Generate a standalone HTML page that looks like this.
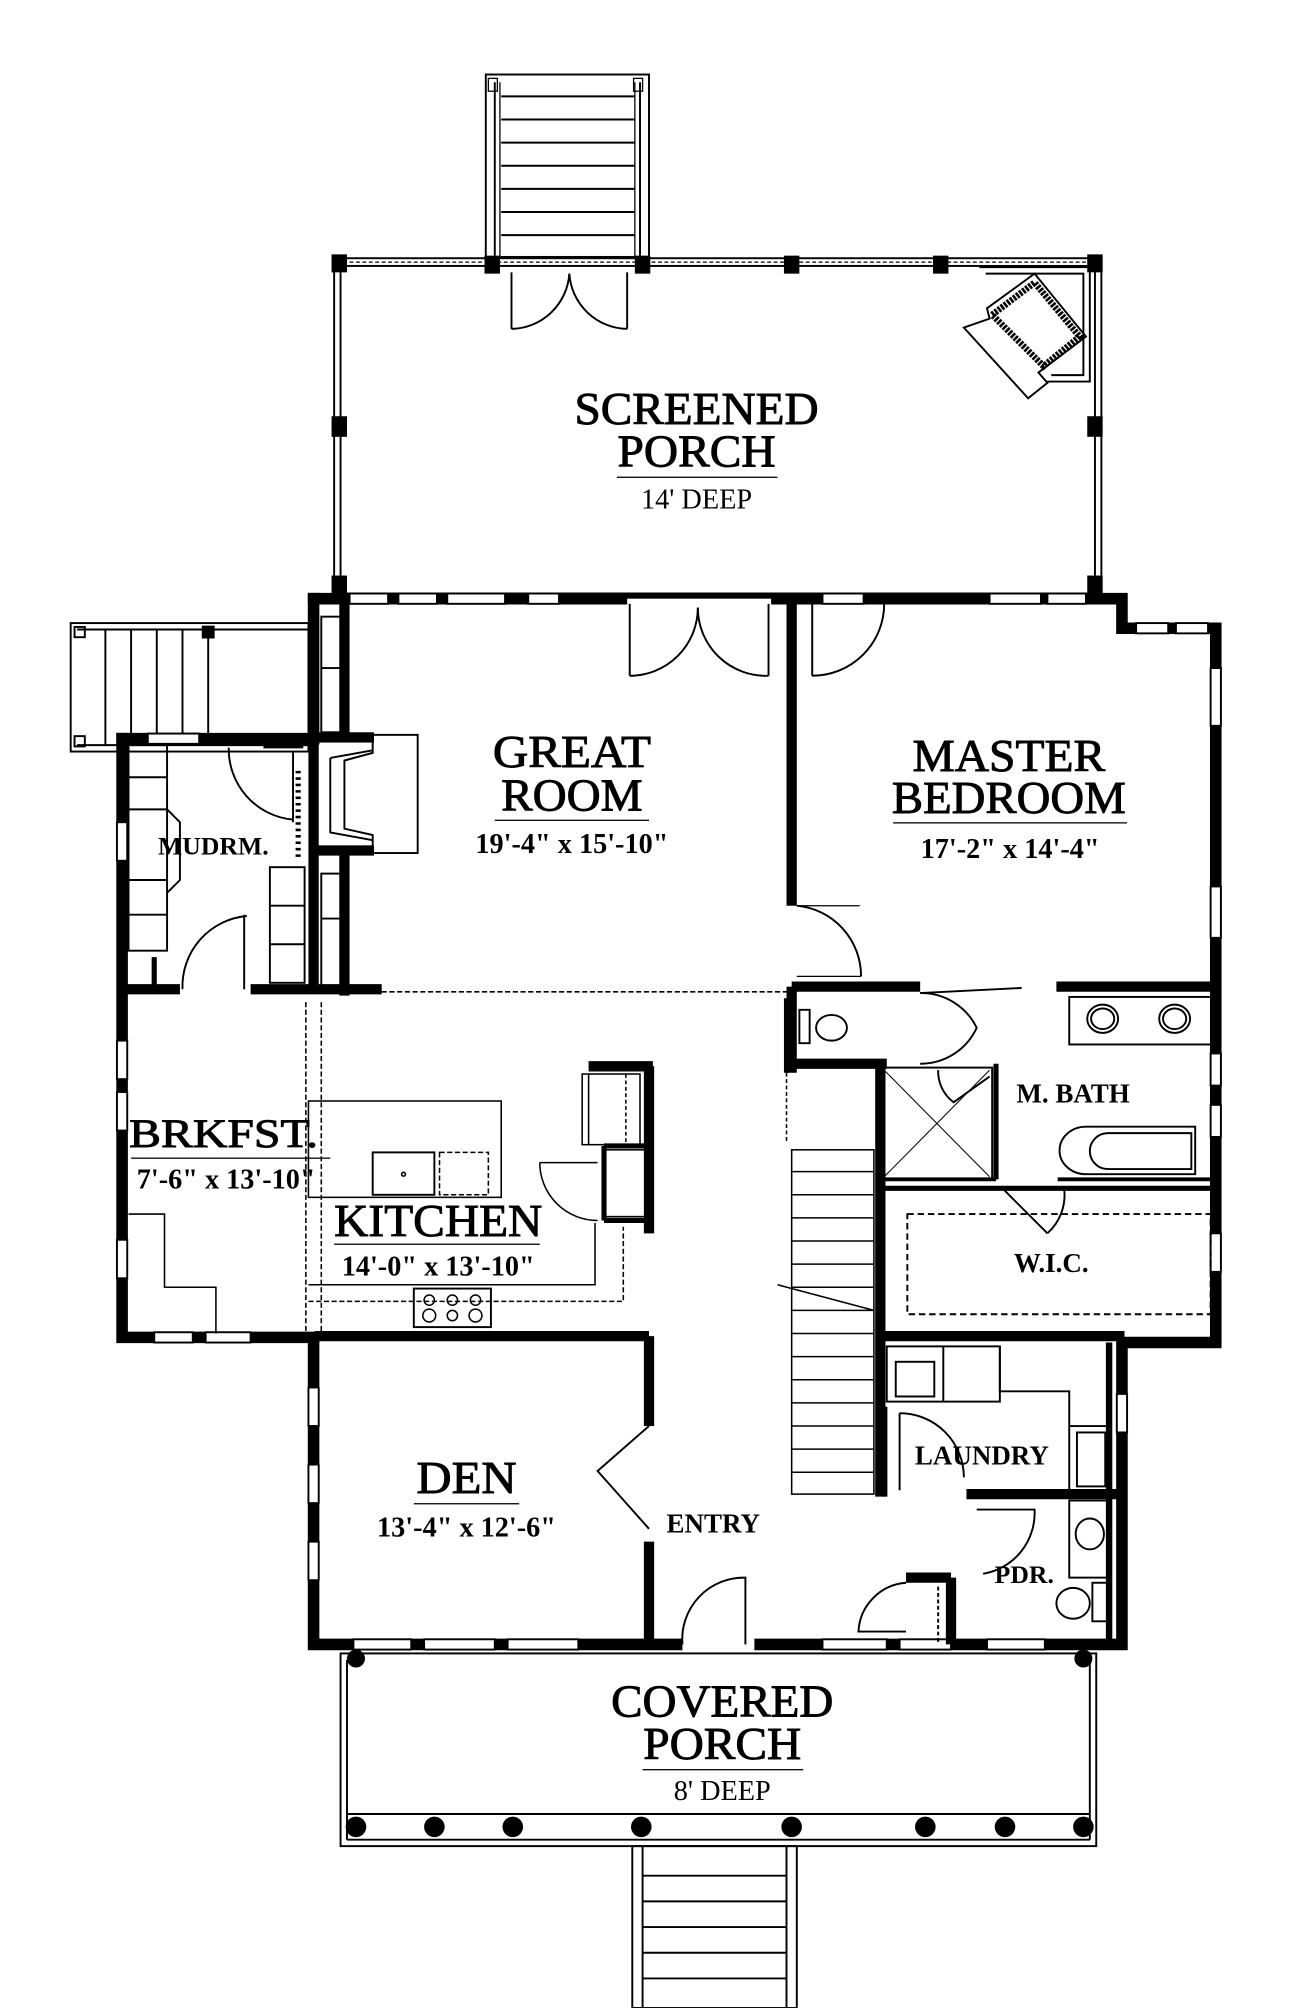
<!DOCTYPE html>
<html><head><meta charset="utf-8"><style>html,body{margin:0;padding:0;background:#fff}svg{display:block}</style></head>
<body>
<svg width="1316" height="2008" viewBox="0 0 1024 1563" preserveAspectRatio="none" xmlns="http://www.w3.org/2000/svg" font-family="Liberation Serif, serif" fill="none" stroke="#000">
<rect width="1024" height="1563" fill="#fff" stroke="none"/>
<!-- top stairs -->
<rect x="378" y="58" width="127" height="142" stroke-width="1.5"/>
<line x1="385" y1="64" x2="385" y2="200" stroke-width="1.5"/><line x1="389" y1="64" x2="389" y2="200"/>
<line x1="498" y1="64" x2="498" y2="200" stroke-width="1.5"/><line x1="494" y1="64" x2="494" y2="200"/>
<rect x="380" y="61" width="7" height="10"/><rect x="493" y="61" width="7" height="10"/>
<g stroke-width="1.5"><line x1="390" y1="75" x2="494" y2="75"/><line x1="390" y1="93" x2="494" y2="93"/><line x1="390" y1="111" x2="494" y2="111"/><line x1="390" y1="129" x2="494" y2="129"/><line x1="390" y1="147" x2="494" y2="147"/><line x1="390" y1="165" x2="494" y2="165"/><line x1="390" y1="183" x2="494" y2="183"/></g>
<!-- screened porch screens -->
<g stroke-width="1.5">
<rect x="260" y="201" width="597" height="261"/>
<rect x="265" y="207" width="587" height="255"/>
<line x1="262" y1="204" x2="855" y2="204" stroke-dasharray="3 2" stroke-width="1"/>
</g>
<g fill="#000" stroke="none">
<rect x="258" y="198" width="12" height="14"/><rect x="377" y="199" width="12" height="14"/><rect x="494" y="199" width="12" height="14"/><rect x="610" y="199" width="12" height="14"/><rect x="726" y="199" width="12" height="14"/><rect x="846" y="198" width="12" height="14"/>
<rect x="258" y="324" width="12" height="16"/><rect x="846" y="324" width="12" height="16"/>
<rect x="258" y="448" width="12" height="14"/><rect x="846" y="448" width="12" height="14"/>
</g>
<!-- porch doors -->
<g stroke-width="1.5">
<line x1="398" y1="212" x2="398" y2="256"/><path d="M398 256 A46 46 0 0 0 443 213"/>
<line x1="488" y1="212" x2="488" y2="256"/><path d="M488 256 A46 46 0 0 1 443 213"/>
</g>
<!-- fireplace corner -->
<g stroke-width="1.5">
<path d="M762 208 L848 208 L848 297 L815 297"/>
<path d="M767 213 L843 213 L843 292 L818 292"/>
<path d="M750 255 L800 310 L815 298 L808 290 L845 262 L805 213 L768 240 L770 248 Z"/>
<path d="M772 245 L805 220 L840 262 L812 285 Z" stroke-width="5" stroke-dasharray="2 1"/>
</g>
<!-- left stairs -->
<g stroke-width="1.5">
<rect x="55" y="485" width="185" height="100"/>
<line x1="60" y1="490" x2="240" y2="490"/><line x1="60" y1="580" x2="240" y2="580"/>
<rect x="58" y="488" width="8" height="8"/><rect x="58" y="573" width="8" height="8"/>
<line x1="82" y1="490" x2="82" y2="580"/><line x1="102" y1="490" x2="102" y2="580"/><line x1="122" y1="490" x2="122" y2="580"/><line x1="142" y1="490" x2="142" y2="580"/><line x1="162" y1="490" x2="162" y2="580"/>
</g>
<rect x="157" y="487" width="10" height="10" fill="#000" stroke="none"/>
<!-- main outer walls -->
<g stroke-width="9" stroke-linecap="square">
<path d="M244 466 L873 466 L873 489 L946 489 L946 1045 L873 1045 L873 1280 L244 1280 L244 1043"/>
<path d="M244 466 L244 575"/>
<path d="M95 575 L244 575"/>
<path d="M95 575 L95 1041 L244 1041"/>
</g>
<g fill="#fff" stroke="#000" stroke-width="1.5">
<rect x="272" y="462" width="30" height="8"/><rect x="310" y="462" width="30" height="8"/><rect x="348" y="462" width="45" height="8"/>
<rect x="411" y="462" width="24" height="8"/><rect x="640" y="462" width="32" height="8"/><rect x="770" y="462" width="40" height="8"/><rect x="815" y="462" width="30" height="8"/>
<rect x="884" y="485" width="25" height="8"/><rect x="915" y="485" width="25" height="8"/>
<rect x="942" y="520" width="8" height="45"/><rect x="942" y="690" width="8" height="40"/><rect x="942" y="820" width="8" height="25"/><rect x="942" y="860" width="8" height="25"/><rect x="942" y="960" width="8" height="30"/>
<rect x="869" y="1085" width="8" height="30"/>
<rect x="91" y="640" width="8" height="30"/><rect x="91" y="810" width="8" height="30"/><rect x="91" y="850" width="8" height="30"/><rect x="91" y="965" width="8" height="30"/>
<rect x="240" y="1080" width="8" height="30"/><rect x="240" y="1140" width="8" height="30"/><rect x="240" y="1200" width="8" height="30"/>
<rect x="120" y="1037" width="30" height="8"/><rect x="160" y="1037" width="35" height="8"/>
<rect x="275" y="1276" width="45" height="8"/><rect x="330" y="1276" width="55" height="8"/><rect x="395" y="1276" width="55" height="8"/>
<rect x="640" y="1276" width="50" height="8"/><rect x="700" y="1276" width="40" height="8"/><rect x="768" y="1276" width="45" height="8"/>
<rect x="115" y="571" width="40" height="8"/>
<rect x="531" y="1275" width="56" height="10" stroke="none"/>
<rect x="488" y="466" width="112" height="6" stroke="none"/>
</g>
<!-- interior walls -->
<g stroke-width="8" stroke-linecap="butt">
<line x1="244" y1="466" x2="244" y2="772"/>
<line x1="268" y1="466" x2="268" y2="575"/>
<line x1="268" y1="665" x2="268" y2="775"/>
<line x1="95" y1="770" x2="140" y2="770"/><line x1="195" y1="770" x2="297" y2="770"/>
<line x1="616" y1="462" x2="616" y2="705"/>
<line x1="616" y1="768" x2="716" y2="768"/><line x1="822" y1="768" x2="946" y2="768"/>
<line x1="616" y1="768" x2="616" y2="835"/>
<line x1="616" y1="828" x2="690" y2="828"/>
<line x1="685" y1="828" x2="685" y2="1165"/>
<line x1="685" y1="1040" x2="875" y2="1040"/>
<line x1="752" y1="1163" x2="870" y2="1163"/>
<line x1="245" y1="1040" x2="505" y2="1040"/>
<line x1="505" y1="830" x2="505" y2="960"/>
<line x1="458" y1="830" x2="508" y2="830"/>
<line x1="505" y1="1040" x2="505" y2="1110"/>
<line x1="505" y1="1200" x2="505" y2="1280"/>
<line x1="705" y1="1228" x2="740" y2="1228"/>
<line x1="740" y1="1228" x2="740" y2="1280"/>
<line x1="120" y1="745" x2="120" y2="773" stroke-width="4"/>
<line x1="205" y1="580" x2="236" y2="580" stroke-width="5"/>
</g>
<g stroke-width="4">
<line x1="612" y1="777" x2="612" y2="835"/>
<line x1="685" y1="925" x2="945" y2="925"/>
<line x1="685" y1="918" x2="775" y2="918" stroke-width="3"/>
<line x1="823" y1="918" x2="945" y2="918" stroke-width="3"/>
<line x1="775" y1="828" x2="775" y2="918"/>
<line x1="470" y1="892" x2="505" y2="892"/>
<line x1="470" y1="892" x2="470" y2="950"/>
<line x1="470" y1="950" x2="505" y2="950"/>
</g>
<!-- stair -->
<g stroke-width="1.2">
<rect x="616" y="895" width="64" height="268"/>
<line x1="616" y1="912" x2="680" y2="912"/><line x1="616" y1="930" x2="680" y2="930"/><line x1="616" y1="948" x2="680" y2="948"/><line x1="616" y1="966" x2="680" y2="966"/><line x1="616" y1="984" x2="680" y2="984"/><line x1="616" y1="1002" x2="680" y2="1002"/><line x1="616" y1="1020" x2="680" y2="1020"/><line x1="616" y1="1038" x2="680" y2="1038"/><line x1="616" y1="1056" x2="680" y2="1056"/><line x1="616" y1="1074" x2="680" y2="1074"/><line x1="616" y1="1092" x2="680" y2="1092"/><line x1="616" y1="1110" x2="680" y2="1110"/><line x1="616" y1="1128" x2="680" y2="1128"/><line x1="616" y1="1146" x2="680" y2="1146"/>
<line x1="605" y1="1000" x2="680" y2="1020"/>
<line x1="612" y1="835" x2="612" y2="890" stroke-dasharray="3 2"/>
</g>
<!-- great room doors -->
<g stroke-width="1.5">
<line x1="490" y1="470" x2="490" y2="526"/><path d="M490 526 A53 53 0 0 0 543 473"/>
<line x1="598" y1="470" x2="598" y2="526"/><path d="M598 526 A53 53 0 0 1 543 473"/>
<line x1="632" y1="470" x2="632" y2="526"/><path d="M632 526 A56 56 0 0 0 688 470"/>
<line x1="620" y1="705" x2="669" y2="705" stroke-width="1"/><path d="M620 705 A55 55 0 0 1 670 760"/>
<line x1="620" y1="760" x2="670" y2="760" stroke-width="1"/>
</g>
<!-- fireplace -->
<g stroke-width="1.5">
<rect x="245" y="572" width="80" height="92"/>
<path d="M248 574 L290 574 L290 586 L268 592 L268 645 L290 650 L290 662 L248 662"/>
<path d="M257 590 L290 584 M257 590 L257 648 L290 654"/>
</g>
<rect x="246" y="570" width="45" height="8" fill="#000" stroke="none"/><rect x="246" y="658" width="45" height="8" fill="#000" stroke="none"/>
<!-- mudroom benches -->
<g stroke-width="1.5">
<rect x="100" y="580" width="30" height="160"/><line x1="100" y1="605" x2="130" y2="605"/><line x1="100" y1="630" x2="130" y2="630"/><line x1="100" y1="685" x2="130" y2="685"/><line x1="100" y1="712" x2="130" y2="712"/>
<rect x="210" y="675" width="27" height="90"/><line x1="210" y1="705" x2="237" y2="705"/><line x1="210" y1="735" x2="237" y2="735"/>
<path d="M130 630 L140 640 L140 685 L130 695"/>
<path d="M178 582 A55 55 0 0 0 228 638"/><line x1="228" y1="585" x2="228" y2="640"/>
<path d="M142 770 A55 55 0 0 1 192 713"/><line x1="190" y1="712" x2="190" y2="770"/>
<line x1="232" y1="600" x2="232" y2="668" stroke-dasharray="2 3" stroke-width="4"/>
<rect x="250" y="480" width="20" height="90"/><line x1="250" y1="520" x2="270" y2="520"/>
<rect x="250" y="680" width="20" height="90"/><line x1="250" y1="715" x2="270" y2="715"/>
</g>
<!-- kitchen -->
<g stroke-width="1.2">
<line x1="297" y1="772" x2="612" y2="772" stroke-dasharray="4 2"/>
<line x1="238" y1="780" x2="238" y2="1040" stroke-dasharray="4 2"/>
<line x1="250" y1="780" x2="250" y2="1040" stroke-dasharray="4 2"/>
<rect x="240" y="857" width="150" height="75"/>
<rect x="290" y="897" width="48" height="33" stroke-width="1.5"/>
<rect x="342" y="897" width="38" height="33" stroke-dasharray="4 2"/>
<circle cx="314" cy="914" r="1.5"/>
<path d="M240 1000 L463 1000 L463 952"/>
<path d="M240 1013 L485 1013 L485 955" stroke-dasharray="4 2"/>
<rect x="322" y="1003" width="60" height="30" stroke-width="1.5"/>
<circle cx="334" cy="1012" r="4"/><circle cx="352" cy="1012" r="4"/><circle cx="370" cy="1012" r="4"/><circle cx="334" cy="1024" r="5"/><circle cx="352" cy="1024" r="4"/><circle cx="370" cy="1024" r="5"/>
<rect x="453" y="836" width="45" height="55"/><line x1="458" y1="836" x2="458" y2="891"/><line x1="487" y1="836" x2="487" y2="891" stroke-dasharray="3 2"/>
<rect x="470" y="895" width="32" height="52"/>
<path d="M420 905 L465 905 M420 905 A45 45 0 0 0 465 950"/>
<path d="M100 945 L128 945 L128 1002 L168 1002 L168 1038"/>
</g>
<!-- master bath -->
<g stroke-width="1.5">
<rect x="832" y="776" width="112" height="37"/><ellipse cx="858" cy="793" rx="12" ry="11"/><ellipse cx="858" cy="793" rx="9" ry="8"/><ellipse cx="914" cy="793" rx="12" ry="11"/><ellipse cx="914" cy="793" rx="9" ry="8"/>
<path d="M622 786 L630 786 L630 812 L622 812 Z"/><ellipse cx="647" cy="800" rx="12" ry="10"/>
<path d="M716 773 A48 48 0 0 1 760 800 A48 48 0 0 1 716 828"/>
<line x1="716" y1="773" x2="795" y2="769"/>
<rect x="686" y="831" width="86" height="87"/><line x1="688" y1="833" x2="770" y2="916" stroke-width="0.8"/><line x1="770" y1="833" x2="688" y2="916" stroke-width="0.8"/>
<path d="M730 833 A30 30 0 0 0 742 858 L770 838"/>
<path d="M845 877 L930 877 L930 914 L845 914 A20 18 0 0 1 845 877 Z"/><path d="M862 882 L927 882 L927 910 L862 910 A14 14 0 0 1 862 882 Z"/>
<path d="M780 925 L815 960 M815 960 A40 40 0 0 0 828 925"/>
<rect x="706" y="945" width="236" height="78" stroke-dasharray="5 3"/>
<rect x="690" y="1048" width="88" height="43"/><line x1="734" y1="1048" x2="734" y2="1091"/><rect x="697" y="1060" width="30" height="27"/>
<path d="M778 1048 L778 1083 L832 1083 L832 1160 M832 1110 L862 1110 L862 1160"/>
<rect x="838" y="1115" width="22" height="42"/>
<path d="M700 1100 A50 50 0 0 1 750 1150"/><line x1="700" y1="1100" x2="700" y2="1160"/>
<path d="M760 1175 L805 1175 A48 48 0 0 1 765 1225"/>
<rect x="832" y="1168" width="30" height="60"/><ellipse cx="848" cy="1194" rx="11" ry="12"/>
<rect x="850" y="1232" width="14" height="30"/><ellipse cx="835" cy="1248" rx="13" ry="12"/>
<path d="M705 1232 A40 40 0 0 0 668 1270 L705 1270"/>
<line x1="730" y1="1235" x2="730" y2="1278" stroke-dasharray="3 2"/>
<path d="M505 1110 L465 1145 L505 1190"/>
<path d="M531 1280 A48 48 0 0 1 580 1228 L580 1280"/>
</g>
<g stroke-width="5"><line x1="863" y1="1045" x2="863" y2="1280"/><line x1="688" y1="1095" x2="688" y2="1165"/></g>
<!-- covered porch -->
<g stroke-width="1.5">
<rect x="265" y="1287" width="588" height="150"/>
<line x1="270" y1="1292" x2="270" y2="1432"/><line x1="848" y1="1292" x2="848" y2="1432"/>
<line x1="270" y1="1432" x2="848" y2="1432"/>
<line x1="270" y1="1412" x2="848" y2="1412"/>
</g>
<g fill="#000" stroke="none">
<circle cx="277" cy="1291" r="7"/><circle cx="843" cy="1291" r="7"/>
<circle cx="277" cy="1422" r="8"/><circle cx="338" cy="1422" r="8"/><circle cx="399" cy="1422" r="8"/><circle cx="499" cy="1422" r="8"/><circle cx="616" cy="1422" r="8"/><circle cx="720" cy="1422" r="8"/><circle cx="782" cy="1422" r="8"/><circle cx="843" cy="1422" r="8"/>
</g>
<g stroke-width="1.5">
<rect x="492" y="1437" width="128" height="126"/>
<line x1="500" y1="1437" x2="500" y2="1563"/><line x1="612" y1="1437" x2="612" y2="1563"/>
<line x1="500" y1="1460" x2="612" y2="1460"/><line x1="500" y1="1480" x2="612" y2="1480"/><line x1="500" y1="1500" x2="612" y2="1500"/><line x1="500" y1="1520" x2="612" y2="1520"/><line x1="500" y1="1540" x2="612" y2="1540"/>
</g>
<!-- labels -->
<g fill="#000" stroke="none" text-anchor="middle">
<g stroke="#000" stroke-width="0.7">
<text x="542" y="330" font-size="35" textLength="190" lengthAdjust="spacingAndGlyphs">SCREENED</text>
<text x="542" y="363" font-size="35" textLength="123" lengthAdjust="spacingAndGlyphs">PORCH</text>
<text x="445" y="597" font-size="35" textLength="123" lengthAdjust="spacingAndGlyphs">GREAT</text>
<text x="445" y="631" font-size="35" textLength="110" lengthAdjust="spacingAndGlyphs">ROOM</text>
<text x="785" y="600" font-size="35" textLength="150" lengthAdjust="spacingAndGlyphs">MASTER</text>
<text x="785" y="633" font-size="35" textLength="182" lengthAdjust="spacingAndGlyphs">BEDROOM</text>
<text x="174" y="893" font-size="31" textLength="147" lengthAdjust="spacingAndGlyphs">BRKFST.</text>
<text x="341" y="962" font-size="35" textLength="162" lengthAdjust="spacingAndGlyphs">KITCHEN</text>
<text x="363" y="1162" font-size="35" textLength="78" lengthAdjust="spacingAndGlyphs">DEN</text>
<text x="562" y="1336" font-size="35" textLength="173" lengthAdjust="spacingAndGlyphs">COVERED</text>
<text x="562" y="1369" font-size="35" textLength="123" lengthAdjust="spacingAndGlyphs">PORCH</text>
</g>
<rect x="480" y="371" width="125" height="1"/>
<text x="542" y="396" font-size="22">14' DEEP</text>
<rect x="385" y="638" width="120" height="1"/>
<text x="445" y="664" font-size="22" font-weight="bold">19'-4" x 15'-10"</text>
<rect x="695" y="640" width="182" height="1"/>
<text x="786" y="668" font-size="22" font-weight="bold">17'-2" x 14'-4"</text>
<text x="166" y="665" font-size="20" font-weight="bold">MUDRM.</text>
<rect x="102" y="901" width="155" height="1"/>
<text x="176" y="925" font-size="22" font-weight="bold">7'-6" x 13'-10"</text>
<rect x="260" y="968" width="160" height="1"/>
<text x="341" y="993" font-size="22" font-weight="bold">14'-0" x 13'-10"</text>
<text x="835" y="858" font-size="21" font-weight="bold">M. BATH</text>
<text x="818" y="990" font-size="21" font-weight="bold">W.I.C.</text>
<text x="764" y="1140" font-size="21" font-weight="bold">LAUNDRY</text>
<text x="797" y="1232" font-size="20" font-weight="bold">PDR.</text>
<text x="555" y="1193" font-size="21" font-weight="bold">ENTRY</text>
<rect x="322" y="1170" width="82" height="1"/>
<text x="363" y="1196" font-size="22" font-weight="bold">13'-4" x 12'-6"</text>
<rect x="500" y="1377" width="125" height="1"/>
<text x="562" y="1401" font-size="22">8' DEEP</text>
</g>
</svg>
</body></html>
